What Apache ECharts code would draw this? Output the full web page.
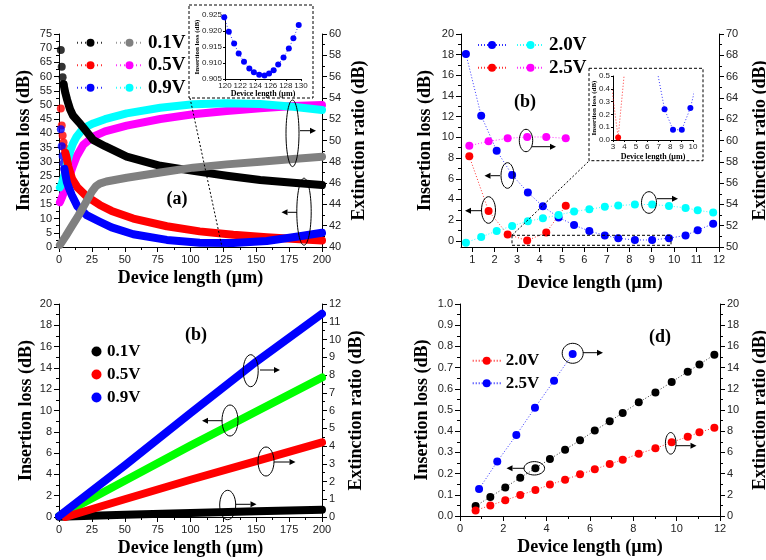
<!DOCTYPE html>
<html><head><meta charset="utf-8">
<script src="https://cdn.jsdelivr.net/npm/echarts@6/dist/echarts.min.js"></script>
<style>html,body{margin:0;padding:0;background:#fff}#c{width:766px;height:560px}</style>
</head><body><div id="c"></div>
<script>
// ================= DATA =================
// (a) top-left : insertion loss (left axis) and extinction ratio (right axis) vs length
const aIL01X = [1.38,2.07,2.76,3.45,4.83,6.21,8.4,10.6,15,20,26,35,51.5,77,102,127.5,153,178,200];
const aIL01  = [69.4,63.5,59.8,57.3,54.2,51.8,48.5,46.3,44.0,41.2,37.7,35.5,31.8,28.6,26.8,25.1,23.6,22.6,21.8];
const aIL05X = [1.38,2.07,2.76,3.45,4.14,4.83,5.8,7,10,14,21,31,40,56.5,82,107,132.5,158,183,200];
const aIL05  = [48.8,42.8,39.3,36.8,34.9,33.2,31.5,28.5,24.0,21.0,17.8,14.8,12.7,10.0,7.3,5.5,4.3,3.4,2.7,2.3];
const aIL09X = [1.38,2.07,2.76,3.45,4.14,5,6,7.8,9.7,14,21,31,40,56.5,82,107,132.5,158,183,200];
const aIL09  = [41.5,35.5,32.0,29.5,27.5,25.2,22.8,20.5,18.3,14.3,11.2,8.9,6.9,4.5,2.5,1.5,1.4,2.1,3.8,5.0];
const aER01X = [0.7,5,10,15,20,25,28,31,36,51.5,77,102,127.5,153,178,200];
const aER01  = [40.2,41.0,42.0,43.0,44.1,45.2,45.7,45.95,46.15,46.5,47.0,47.45,47.76,48.0,48.26,48.48];
const aER05X = [0.69,2.07,4.14,6.21,8.4,10.6,13.4,18.5,26,35,51.5,77,102,127.5,153,178,200];
const aER05  = [44.2,44.6,45.3,46.0,46.8,47.6,48.5,49.6,50.36,50.85,51.39,52.02,52.46,52.77,53.02,53.24,53.33];
const aER09X = [0.69,2.07,4.14,6.21,8.4,10.6,13.4,18.5,26,35,51.5,77,102,127.5,153,178,200];
const aER09  = [45.6,45.9,46.8,47.9,48.95,49.7,50.36,51.15,51.6,52.0,52.55,53.08,53.4,53.5,53.43,53.17,52.86];
const aDots = {il01:4, il05:6, il09:5};   // number of separate dots at the start
const aLegend = ['0.1V','0.5V','0.9V'];
// (a) inset
const inAX = [119.9,120.5,121.2,121.8,122.5,123.2,123.8,124.5,125.2,125.8,126.4,127.0,127.7,128.4,129.0,129.7];
const inAY = [0.9243,0.9198,0.9161,0.913,0.9104,0.9083,0.9071,0.9063,0.9061,0.9067,0.9077,0.9095,0.9117,0.9145,0.9177,0.9219];

// (b) top-right
const bX20  = [0.72,1.40,2.09,2.78,3.48,4.15,4.85,5.54,6.22,6.91,7.51,8.25,9.02,9.77,10.51,11.05,11.74];
const bIL20 = [18.06,12.1,8.72,6.37,4.68,3.33,2.26,1.52,0.94,0.52,0.24,0.08,0.08,0.25,0.52,1.03,1.65];
const bER20 = [50.41,50.94,51.51,51.98,52.42,52.70,53.01,53.33,53.55,53.77,53.89,53.99,53.99,53.86,53.67,53.45,53.23];
const bX25  = [0.87,1.73,2.58,3.45,4.30,5.17];
const bIL25 = [8.17,2.88,0.62,0.02,0.81,3.39];
const bER25 = [59.51,59.92,60.2,60.33,60.33,60.2];
const bLegend = ['2.0V','2.5V'];
const bXTicks = [1,2,3,4,5,6,7,8,9,10,11,12];
const bYTicks = [0,2,4,6,8,10,12,14,16,18,20];
const bYMinor = [1,3,5,7,9,11,13,15,17,19];

// (b) bottom-left
const cX    = [0,50,100,150,200];
const cIL   = [0.1,3.4,6.7,9.9,13.1];
const cER01 = [0.02,0.12,0.22,0.32,0.41];
const cX05  = [5,50,100,150,200];
const cER05 = [0,1.0,2.1,3.15,4.2];
const cER09 = [0.05,2.9,5.85,8.75,11.45];
const cLegend = ['0.1V','0.5V','0.9V'];

// (d) bottom-right
const dX20  = [0.72,1.40,2.09,2.78,3.48,4.15,4.85,5.54,6.22,6.91,7.51,8.25,9.02,9.77,10.51,11.05,11.74];
const dIL20 = [0.047,0.090,0.135,0.181,0.225,0.269,0.313,0.357,0.403,0.447,0.486,0.536,0.583,0.632,0.681,0.715,0.761];
const dER20 = [0.53,1.0,1.48,1.98,2.45,2.96,3.43,3.93,4.40,4.91,5.31,5.88,6.38,6.95,7.48,7.89,8.33];
const dX25  = [0.88,1.72,2.60,3.46,4.34,5.20];
const dER25 = [2.55,5.13,7.64,10.22,12.77,15.28];
const dLegend = ['2.0V','2.5V'];

// ================= STYLE / HELPERS =================
const SERIF = '"Liberation Serif","Times New Roman",serif';
const SANS = '"Liberation Sans",Arial,sans-serif';
const COL = {black:'#000000', gray:'#808080', red:'#ff0000', magenta:'#ff00ff', blue:'#0000ff', cyan:'#00ffff', green:'#00ff00'};
const zip = (xs, ys) => xs.map((x, i) => [x, ys[i]]);
function merge(a, b) {
  const o = Object.assign({}, a);
  for (const k in b) {
    const v = b[k];
    if (v && typeof v === 'object' && !Array.isArray(v) && o[k] && typeof o[k] === 'object' && !Array.isArray(o[k])) o[k] = merge(o[k], v);
    else o[k] = v;
  }
  return o;
}
function ax(extra) {
  return merge({
    type: 'value',
    axisLine: {show: true, onZero: false, lineStyle: {color: '#000', width: 1}},
    axisTick: {show: true, inside: false, length: 5, lineStyle: {color: '#000', width: 1}},
    minorTick: {show: true, splitNumber: 2, length: 3, lineStyle: {color: '#000', width: 1}},
    axisLabel: {color: '#222', fontSize: 11, fontFamily: SANS, margin: 7},
    splitLine: {show: false}, minorSplitLine: {show: false},
    nameLocation: 'middle', nameMoveOverlap: false,
    nameTextStyle: {fontFamily: SERIF, fontWeight: 'bold', fontSize: 18, color: '#000'}
  }, extra);
}
const XNAME = 'Device length (\u00b5m)';
const ILNAME = 'Insertion loss (dB)';
const ERNAME = 'Extinction ratio (dB)';

const grids = [
  {left: 59, top: 34, width: 263, height: 213},
  {left: 461, top: 34, width: 258, height: 213},
  {left: 59, top: 304, width: 263, height: 213},
  {left: 460, top: 304, width: 260, height: 212},
  {left: 225, top: 15, width: 76, height: 64},
  {left: 613, top: 76, width: 80, height: 64}
].map(g => Object.assign(g, {containLabel: false, outerBoundsMode: 'none'}));

const insetAxisText = {fontFamily: SERIF, fontWeight: 'bold', fontSize: 8, color: '#000'};
const xAxes = [
  ax({gridIndex: 0, min: 0, max: 200, interval: 25, name: XNAME, nameGap: 22}),
  ax({gridIndex: 1, min: 0.5, max: 12, name: XNAME, nameGap: 27, minorTick: {show: false},
      axisLabel: {customValues: bXTicks}, axisTick: {customValues: bXTicks}}),
  ax({gridIndex: 2, min: 0, max: 200, interval: 25, name: XNAME, nameGap: 22}),
  ax({gridIndex: 3, min: 0, max: 12, interval: 2, name: XNAME, nameGap: 22}),
  ax({gridIndex: 4, min: 120, max: 130, interval: 2, name: XNAME, nameGap: 11, nameTextStyle: insetAxisText,
      axisLabel: {fontSize: 8, margin: 3}, axisTick: {length: 2}, minorTick: {show: false}}),
  ax({gridIndex: 5, min: 3, max: 10, interval: 1, name: XNAME, nameGap: 13, nameTextStyle: insetAxisText,
      axisLabel: {fontSize: 8, margin: 3}, axisTick: {length: 2}, minorTick: {show: false}})
];
const yAxes = [
  ax({gridIndex: 0, position: 'left', min: 0, max: 75, interval: 5, name: ILNAME, nameGap: 26, nameRotate: 90}),
  ax({gridIndex: 0, position: 'right', min: 40, max: 60, interval: 2, name: ERNAME, nameGap: 28, nameRotate: 90}),
  ax({gridIndex: 1, position: 'left', min: -0.6, max: 20, name: ILNAME, nameGap: 27, nameRotate: 90, minorTick: {show: false},
      axisLabel: {customValues: bYTicks}, axisTick: {customValues: bYTicks}}),
  ax({gridIndex: 1, position: 'right', min: 50, max: 70, interval: 2, name: ERNAME, nameGap: 32, nameRotate: 90}),
  ax({gridIndex: 2, position: 'left', min: 0, max: 20, interval: 2, name: ILNAME, nameGap: 24, nameRotate: 90}),
  ax({gridIndex: 2, position: 'right', min: 0, max: 12, interval: 1, name: ERNAME, nameGap: 25, nameRotate: 90}),
  ax({gridIndex: 3, position: 'left', min: 0, max: 1, interval: 0.1, name: ILNAME, nameGap: 29, nameRotate: 90,
      axisLabel: {formatter: v => v.toFixed(1)}}),
  ax({gridIndex: 3, position: 'right', min: 0, max: 20, interval: 2, name: ERNAME, nameGap: 31, nameRotate: 90}),
  ax({gridIndex: 4, position: 'left', min: 0.905, max: 0.925, interval: 0.005, name: ILNAME, nameGap: 24, nameRotate: 90,
      nameTextStyle: {fontFamily: SERIF, fontWeight: 'bold', fontSize: 7, color: '#000'},
      axisLabel: {fontSize: 8, margin: 3, formatter: v => v.toFixed(3)}, axisTick: {length: 2}, minorTick: {show: false}}),
  ax({gridIndex: 5, position: 'left', min: 0, max: 0.5, interval: 0.1, name: ILNAME, nameGap: 15, nameRotate: 90,
      nameTextStyle: {fontFamily: SERIF, fontWeight: 'bold', fontSize: 7, color: '#000'},
      axisLabel: {fontSize: 8, margin: 3, formatter: v => v.toFixed(1)}, axisTick: {length: 2}, minorTick: {show: false}}),
  // minor ticks for the (b) top-right left axis
  ax({gridIndex: 1, position: 'left', min: -0.6, max: 20, axisLine: {show: false}, axisLabel: {show: false},
      minorTick: {show: false}, axisTick: {length: 3, customValues: bYMinor}})
];

// ---- series builders ----
function thick(name, color, xs, ys, xi, yi, from) {
  return {name, type: 'line', xAxisIndex: xi, yAxisIndex: yi, data: zip(xs, ys).slice(from || 0),
    symbol: 'circle', symbolSize: 8, showSymbol: false, smooth: false,
    lineStyle: {color, width: 8, cap: 'round', join: 'round'}, itemStyle: {color}, clip: true};
}
function dots(name, color, xs, ys, n, xi, yi) {
  return {name, type: 'scatter', xAxisIndex: xi, yAxisIndex: yi, data: zip(xs, ys).slice(0, n),
    symbol: 'circle', symbolSize: 8, itemStyle: {color}, clip: true};
}
function dotted(name, color, xs, ys, xi, yi, size, clip) {
  return {name, type: 'line', xAxisIndex: xi, yAxisIndex: yi, data: zip(xs, ys),
    symbol: 'circle', symbolSize: size || 8, showSymbol: true,
    lineStyle: {color, width: 1, type: [1, 2], opacity: 0.8}, itemStyle: {color}, clip: clip !== false};
}
// legend-only entry (no data): gives the dotted-line + dot key of panel (a)
function key(name, color, xi, yi) {
  return {name, type: 'line', xAxisIndex: xi, yAxisIndex: yi, data: [], symbol: 'circle', symbolSize: 8,
    lineStyle: {color, width: 1.2, type: [1, 3], opacity: 0.8}, itemStyle: {color}};
}

const series = [
  // (a)
  thick('a_er05_line', COL.magenta, aER05X, aER05, 0, 1),
  thick('a_er09_line', COL.cyan, aER09X, aER09, 0, 1),
  dots('a_il01_d', COL.black, aIL01X, aIL01, aDots.il01, 0, 0),
  thick('a_il01_line', COL.black, aIL01X, aIL01, 0, 0, aDots.il01 - 1),
  dots('a_il05_d', COL.red, aIL05X, aIL05, aDots.il05, 0, 0),
  thick('a_il05_line', COL.red, aIL05X, aIL05, 0, 0, aDots.il05 - 1),
  dots('a_il09_d', COL.blue, aIL09X, aIL09, aDots.il09, 0, 0),
  thick('a_il09_line', COL.blue, aIL09X, aIL09, 0, 0, aDots.il09 - 1),
  thick('a_er01_line', COL.gray, aER01X, aER01, 0, 1),
  key('a_il01', COL.black, 0, 0), key('a_il05', COL.red, 0, 0), key('a_il09', COL.blue, 0, 0),
  key('a_er01', COL.gray, 0, 1), key('a_er05', COL.magenta, 0, 1), key('a_er09', COL.cyan, 0, 1),
  dotted('a_inset', COL.blue, inAX, inAY, 4, 8, 6, false),
  // (b) top-right
  dotted('b_il20', COL.blue, bX20, bIL20, 1, 2),
  dotted('b_il25', COL.red, bX25, bIL25, 1, 2),
  dotted('b_er20', COL.cyan, bX20, bER20, 1, 3),
  dotted('b_er25', COL.magenta, bX25, bER25, 1, 3),
  dotted('b_in20', COL.blue, bX20, bIL20, 5, 9, 6),
  dotted('b_in25', COL.red, bX25, bIL25, 5, 9, 6),
  // (b) bottom-left
  thick('c_il', COL.green, cX, cIL, 2, 4),
  thick('c_er01', COL.black, cX, cER01, 2, 5),
  thick('c_er05', COL.red, cX05, cER05, 2, 5),
  thick('c_er09', COL.blue, cX, cER09, 2, 5),
  // (d) bottom-right
  dotted('d_il20', COL.black, dX20, dIL20, 3, 6),
  dotted('d_er20', COL.red, dX20, dER20, 3, 7),
  dotted('d_er25', COL.blue, dX25, dER25, 3, 7)
];

// ---- legends ----
const legText = {fontFamily: SERIF, fontWeight: 'bold', color: '#000'};
function leg(data, left, top, itemWidth, fontSize, lineH, labels, icon) {
  return {data: data.map(n => icon ? {name: n, icon} : n), left, top, orient: 'vertical', padding: 0, itemGap: 0,
    itemWidth, itemHeight: 10, selectedMode: false, itemStyle: {borderWidth: 0},
    textStyle: Object.assign({fontSize, lineHeight: lineH}, legText),
    formatter: labels ? (n => labels[data.indexOf(n)]) : (() => ' ')};
}
const legends = [
  leg(['a_il01', 'a_il05', 'a_il09'], 76, 31.5, 27, 19, 22.5, null),
  leg(['a_er01', 'a_er05', 'a_er09'], 115, 31.5, 27, 19, 22.5, aLegend),
  leg(['b_il20', 'b_il25'], 477, 33.6, 28, 19, 22.7, null),
  leg(['b_er20', 'b_er25'], 516, 33.6, 27, 19, 22.7, bLegend),
  leg(['c_er01', 'c_er05', 'c_er09'], 91.5, 340, 11, 17, 23, cLegend, 'circle'),
  leg(['d_er20', 'd_er25'], 471.7, 349.4, 28, 17, 22.6, dLegend)
];

// ---- annotations (ellipses, arrows, inset frames, panel labels) ----
const G = [];
function ell(cx, cy, rx, ry) { G.push({type: 'ellipse', shape: {cx, cy, rx, ry}, style: {fill: null, stroke: '#000', lineWidth: 1}, z: 100}); }
function arrow(x1, y1, x2, y2) {
  const dx = x2 - x1, dy = y2 - y1, L = Math.hypot(dx, dy), ux = dx / L, uy = dy / L, hl = 6, hw = 3;
  const bx = x2 - ux * hl, by = y2 - uy * hl;
  G.push({type: 'line', shape: {x1, y1, x2: bx, y2: by}, style: {stroke: '#000', lineWidth: 1}, z: 100});
  G.push({type: 'polygon', shape: {points: [[x2, y2], [bx - uy * hw, by + ux * hw], [bx + uy * hw, by - ux * hw]]}, style: {fill: '#000'}, z: 100});
}
function drect(x, y, w, h) { G.push({type: 'rect', shape: {x, y, width: w, height: h}, style: {fill: null, stroke: '#000', lineWidth: 1, lineDash: [3, 2]}, z: 100}); }
function dline(x1, y1, x2, y2) { G.push({type: 'line', shape: {x1, y1, x2, y2}, style: {stroke: '#000', lineWidth: 1, lineDash: [2, 2]}, z: 100}); }
function label(t, x, y) { G.push({type: 'text', x, y, style: {text: t, fontFamily: SERIF, fontWeight: 'bold', fontSize: 18, fill: '#000', align: 'center', verticalAlign: 'middle'}, z: 100}); }

// (a)
ell(292.5, 133.3, 6.5, 33.3); arrow(300, 130.7, 316, 130.7);
ell(304, 211.7, 7.2, 33.5); arrow(297, 212.3, 281.5, 212.3);
drect(189, 5, 124, 93); dline(190, 98, 222, 247);
label('(a)', 177, 199);
// (b) top-right
ell(526, 140.5, 6.7, 11.2); arrow(532, 146.7, 556, 146.7);
ell(507.5, 175.5, 6.5, 12.8); arrow(500, 175.7, 484.5, 175.7);
ell(488.5, 210, 7, 13.3); arrow(481, 210.7, 465, 210.7);
ell(649, 202.5, 7.5, 10.8); arrow(657, 198.7, 678, 198.7);
drect(589, 68.3, 114, 92.4); drect(512, 235.3, 159, 10); dline(512, 235.3, 589, 161);
label('(b)', 525, 102);
// (b) bottom-left
ell(250.7, 370.7, 7.5, 16); arrow(260, 370, 280, 370);
ell(230, 420.5, 8, 15.5); arrow(222.5, 420.7, 202, 420.7);
ell(266, 461.5, 8, 14.5); arrow(274, 462, 295.5, 462);
ell(227.7, 505, 8, 14.7); arrow(235.7, 504.3, 256.5, 504.3);
label('(b)', 196, 335);
// (d)
ell(572.7, 353.3, 10.5, 10); arrow(583, 352.7, 603, 352.7);
ell(534.3, 468.3, 10.3, 6.7); arrow(524.3, 468.3, 506.5, 468.3);
ell(670.7, 443.3, 5.3, 10.8); arrow(676, 445.7, 696.5, 445.7);
label('(d)', 660, 337);

const chart = echarts.init(document.getElementById('c'), null, {renderer: 'canvas'});
chart.setOption({
  animation: false,
  backgroundColor: '#fff',
  grid: grids,
  xAxis: xAxes,
  yAxis: yAxes,
  legend: legends,
  series,
  graphic: {elements: G}
});
</script></body></html>
